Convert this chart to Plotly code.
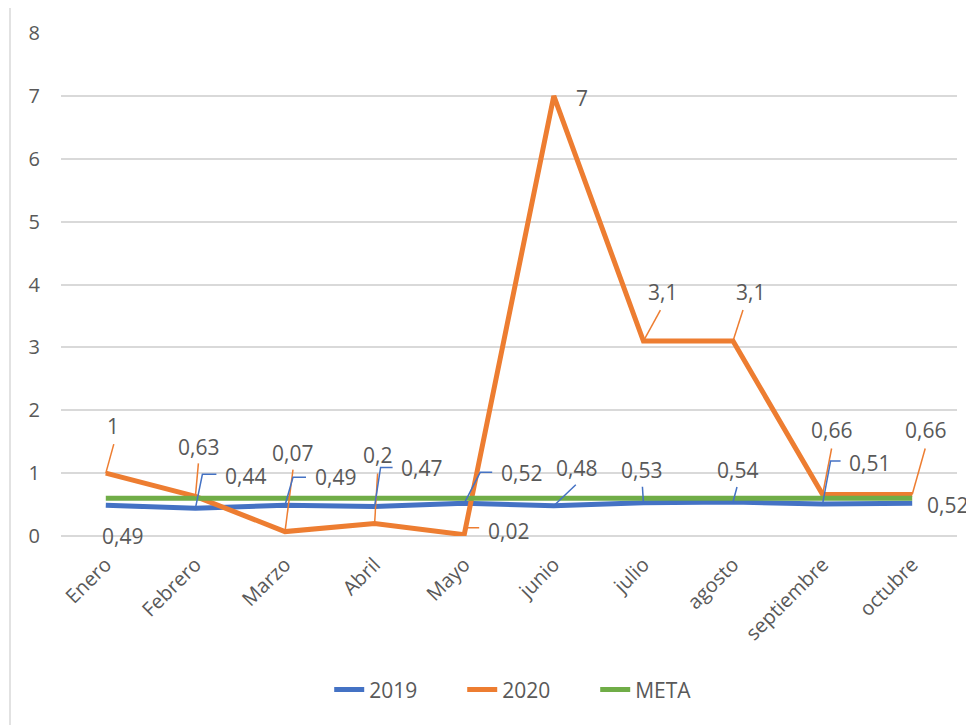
import plotly.graph_objects as go

meses = ["Enero", "Febrero", "Marzo", "Abril", "Mayo", "junio", "julio",
         "agosto", "septiembre", "octubre"]
serie_2019 = [0.49, 0.44, 0.49, 0.47, 0.52, 0.48, 0.53, 0.54, 0.51, 0.52]
serie_2020 = [1, 0.63, 0.07, 0.2, 0.02, 7, 3.1, 3.1, 0.66, 0.66]
meta = [0.6] * 10

# label offsets (pixels, y up) and leader-line paths -- layout only
off_2020 = [(7, 47), (3, 49), (7, 79), (3, 68), (44, 4), (28, -2), (19, 49), (17, 49), (9, 65), (13, 65)]
lead_2020 = ["M0,0 L8,29", "M0,0 L3,33", "M0,0 L8,62", "M0,0 L3,50", "M0,1 L3,7 L15,7", None,
             "M0,0 L17,31", "M0,0 L10,31", "M0,0 L9,46", "M0,0 L13,46"]
off_2019 = [(17, -31), (50, 32), (50, 28), (47, 38), (57, 30), (23, 38), (-2, 33), (4, 32), (47, 41), (35, -2)]
lead_2019 = [None, "M0,0 L7,34 L21,34", "M0,0 L8,28 L21,28", "M0,0 L6,39 L18,39", "M0,0 L16,31 L28,31",
             "M0,0 L22,21", "M0,0 L-1,16", "M0,0 L4,15", "M0,0 L8,43 L18,43", None]

BLUE, ORANGE, GREEN = "#4472C4", "#ED7D31", "#70AD47"
TXT = "#595959"
FONT = "Open Sans"

fig = go.Figure()
fig.add_trace(go.Scatter(x=list(range(10)), y=serie_2019, name="2019", mode="lines",
                         line=dict(color=BLUE, width=5)))
fig.add_trace(go.Scatter(x=list(range(10)), y=serie_2020, name="2020", mode="lines",
                         line=dict(color=ORANGE, width=5)))
fig.add_trace(go.Scatter(x=list(range(10)), y=meta, name="META", mode="lines",
                         line=dict(color=GREEN, width=5)))

def fmt(v):
    return f"{v:g}".replace(".", ",")

annotations = []
shapes = []
for vals, offs, leads, col in [(serie_2020, off_2020, lead_2020, ORANGE),
                               (serie_2019, off_2019, lead_2019, BLUE)]:
    for i, v in enumerate(vals):
        dx, dy = offs[i]
        annotations.append(dict(x=i, y=v, xref="x", yref="y", text=fmt(v), showarrow=False,
                                xshift=dx, yshift=dy, font=dict(family=FONT, size=21, color=TXT)))
        if leads[i]:
            shapes.append(dict(type="path", xref="x", yref="y", xsizemode="pixel", ysizemode="pixel",
                               xanchor=i, yanchor=v, path=leads[i],
                               line=dict(color=col, width=1.5), layer="above"))

# chart border
shapes.append(dict(type="rect", xref="paper", yref="paper", x0=(10 - 61) / 896, x1=1.2,
                   y0=-0.6, y1=(536 - 4) / 503, line=dict(color="#D9D9D9", width=1.5),
                   fillcolor="rgba(0,0,0,0)", layer="below"))

# page body has an 8px margin: compensate
fig.update_layout(
    width=966, height=717,
    margin=dict(l=53, r=17, t=25, b=189, autoexpand=False),
    paper_bgcolor="white", plot_bgcolor="white",
    font=dict(family=FONT, size=20, color=TXT),
    showlegend=True,
    legend=dict(orientation="h", x=0.522, xanchor="center", y=-0.306, yanchor="middle",
                font=dict(family=FONT, size=21, color=TXT),
                entrywidth=88, entrywidthmode="pixels"),
    annotations=annotations,
    shapes=shapes,
    xaxis=dict(tickmode="array", tickvals=list(range(10)), ticktext=meses, range=[-0.5, 9.5],
               tickangle=-45, showgrid=False, showline=False, zeroline=False,
               tickfont=dict(family=FONT, size=20, color=TXT), ticklabelstandoff=12),
    yaxis=dict(range=[0, 8], dtick=1, showgrid=True, gridcolor="#D9D9D9", gridwidth=1.5,
               zeroline=True, zerolinecolor="#D9D9D9", zerolinewidth=1.5, showline=False,
               tickfont=dict(family=FONT, size=20, color=TXT), ticklabelstandoff=20),
)

fig.write_html("out.html")
